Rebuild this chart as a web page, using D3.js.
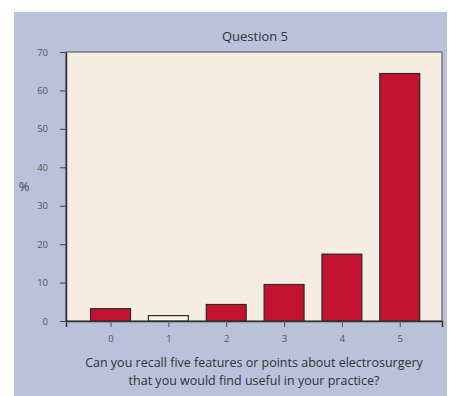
<!DOCTYPE html>
<html>
<head>
<meta charset="utf-8">
<script src="https://cdn.jsdelivr.net/npm/d3@7"></script>
<style>
  html, body { margin: 0; padding: 0; background: #ffffff; }
  svg { display: block; }
  text { font-family: "Open Sans", "Noto Sans", sans-serif; }
</style>
</head>
<body>
<script>
const title = "Question 5";
const categories = [0, 1, 2, 3, 4, 5];
const values = [3.2, 1.4, 4.3, 9.5, 17.4, 64.4];
const yTicks = [0, 10, 20, 30, 40, 50, 60, 70];
const xTitleLines = ["Can you recall five features or points about electrosurgery", "that you would find useful in your practice?"];
const yTitle = "%";

const W = 451, H = 396;
const svg = d3.select("body").append("svg").attr("width", W).attr("height", H);

// blue panel
svg.append("rect").attr("x", 14).attr("y", 12).attr("width", 433).attr("height", 384).attr("fill", "#b9c1db");

const pLeft = 66, pRight = 442, pTop = 52, pBottom = 321;
const x = d3.scaleLinear().domain([-0.77, 5.73]).range([pLeft, pRight]);
const y = d3.scaleLinear().domain([0, 70]).range([pBottom, pTop]);

// plot background
svg.append("rect").attr("x", pLeft).attr("y", pTop).attr("width", pRight - pLeft).attr("height", pBottom - pTop)
  .attr("fill", "#f5ede2").attr("stroke", "#4a4a4a").attr("stroke-width", 1);

// bars
const bw = x(0.345) - x(-0.345);
svg.append("g").selectAll("rect").data(categories).join("rect")
  .attr("x", (d) => x(d) - bw / 2)
  .attr("y", (d, i) => y(values[i]))
  .attr("width", bw)
  .attr("height", (d, i) => y(0) - y(values[i]))
  .attr("fill", (d, i) => i === 1 ? "#faf4ea" : "#c41230")
  .attr("stroke", "#2a2a2a").attr("stroke-width", 1.2);

// y axis
const yAxis = svg.append("g").attr("transform", `translate(${pLeft},0)`)
  .call(d3.axisLeft(y).tickValues(yTicks).tickSize(6).tickPadding(12).tickSizeOuter(0));
yAxis.select(".domain").attr("stroke", "#333").attr("stroke-width", 1.5);
yAxis.selectAll(".tick line").attr("stroke", "#444").attr("stroke-width", 1);
yAxis.selectAll(".tick text").attr("fill", "#555").attr("font-size", 9.5)
  .attr("font-family", "'Liberation Sans', Arial, sans-serif");

// x axis
const xAxis = svg.append("g").attr("transform", `translate(0,${pBottom})`)
  .call(d3.axisBottom(x).tickValues(categories).tickFormat(d3.format("d")).tickSize(6).tickPadding(8).tickSizeOuter(6));
xAxis.select(".domain").attr("stroke", "#333").attr("stroke-width", 1.5);
xAxis.selectAll(".tick line").attr("stroke", "#555").attr("stroke-width", 1);
xAxis.selectAll(".tick text").attr("fill", "#555").attr("font-size", 9.5)
  .attr("font-family", "'Liberation Sans', Arial, sans-serif");

// title
svg.append("text").attr("x", 255).attr("y", 41).attr("text-anchor", "middle")
  .attr("font-size", 13).attr("fill", "#333").text(title);

// y title
svg.append("text").attr("x", 24).attr("y", 191).attr("text-anchor", "middle")
  .attr("font-size", 13).attr("fill", "#444").text(yTitle);

// x title
svg.append("text").attr("text-anchor", "middle").attr("font-size", 12.5).attr("fill", "#333")
  .selectAll("tspan").data(xTitleLines).join("tspan")
  .attr("x", 254).attr("y", (d, i) => 367 + i * 18).text(d => d);
</script>
</body>
</html>
